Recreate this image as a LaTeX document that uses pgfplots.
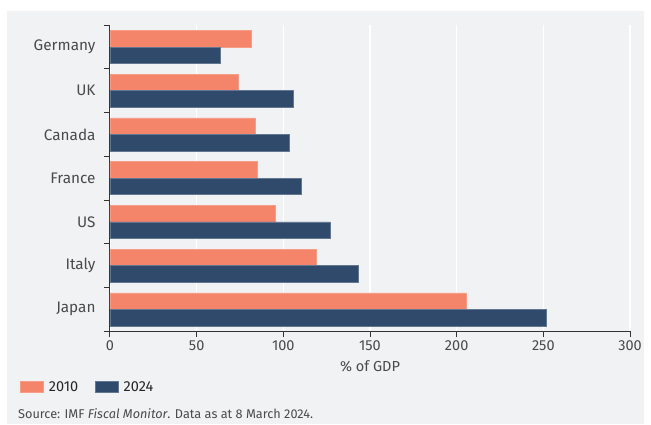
\documentclass[border=0pt]{standalone}
\usepackage{pgfplots}
\pgfplotsset{compat=1.18}
\usepackage{fontspec}
\setmainfont{Fira Sans}
\definecolor{salmon}{HTML}{F4846A}
\definecolor{navy}{HTML}{2F4A6B}
\definecolor{panel}{HTML}{F1F2F4}
\definecolor{txt}{HTML}{4A4A4A}
\definecolor{axc}{HTML}{333333}
\begin{document}
\begin{tikzpicture}
\fill[white] (0pt,0pt) rectangle (651pt,421pt);
\fill[panel] (7pt,0pt) rectangle (644pt,413pt);
\begin{axis}[
  at={(110pt,93pt)}, anchor=south west,
  scale only axis, width=520pt, height=306pt,
  xmin=0, xmax=300, ymin=-0.5, ymax=6.5,
  xbar, bar width=16.5pt,
  axis x line*=bottom, axis y line*=left,
  axis line style={axc, line width=1pt},
  xtick={0,50,...,300},
  ytick={-0.5,0.5,1.5,2.5,3.5,4.5,5.5,6.5},
  yticklabels={Japan,Italy,US,France,Canada,UK,Germany,{}},
  xmajorgrids, grid style={white, line width=1.6pt},
  tick align=outside, major tick length=6pt,
  tick style={axc, line width=1pt},
  /pgf/number format/assume math mode=true,
  tick label style={font=\fontsize{14.5}{16}\selectfont, text=txt},
  yticklabel style={yshift=21.86pt, xshift=-5pt, font=\fontsize{15.3}{17}\selectfont},
  xlabel={\% of GDP},
  xlabel style={font=\fontsize{14.5}{16}\selectfont, text=txt, yshift=-3pt},
  legend style={at={(-0.173,-0.183)}, anchor=west, draw=none, fill=none,
    inner sep=0pt, legend columns=2,
    font=\fontsize{14.5}{16}\selectfont, text=black!85,
    /tikz/every odd column/.append style={column sep=3pt},
    /tikz/every even column/.append style={column sep=15pt}},
  legend image code/.code={\fill[#1] (0pt,-5.5pt) rectangle (23pt,5.5pt);},
]
\addplot[fill=salmon, draw=salmon!80!white, line width=0.6pt, bar shift=8.25pt] coordinates {
  (205.8,0) (119.2,1) (95.2,2) (85.2,3) (83.9,4) (73.8,5) (81.8,6)};
\addplot[fill=navy, draw=navy!75!white, line width=0.6pt, bar shift=-8.25pt] coordinates {
  (251.7,0) (143.3,1) (127.0,2) (110.4,3) (103.3,4) (105.8,5) (63.8,6)};
\legend{2010,2024}
\end{axis}
\node[anchor=west, font=\fontsize{12.7}{14}\selectfont, text=txt, inner sep=0pt] at (18pt,11pt)
  {Source: IMF \textit{Fiscal Monitor}. Data as at 8 March 2024.};
\end{tikzpicture}
\end{document}
